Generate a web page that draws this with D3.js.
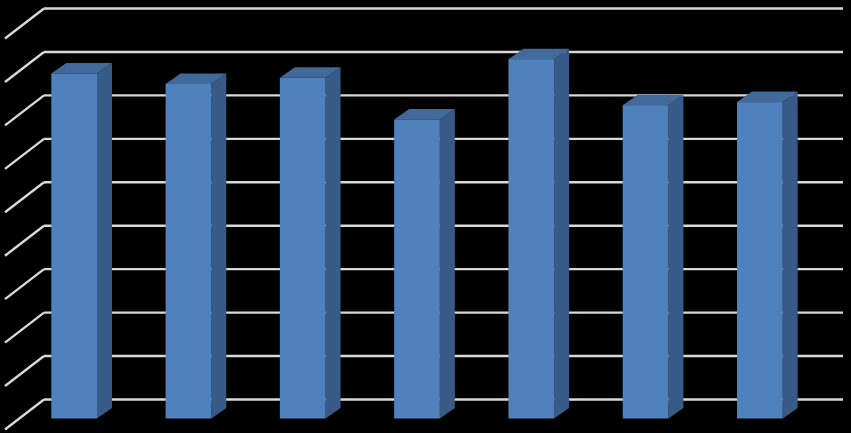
<!DOCTYPE html>
<html>
<head>
<meta charset="utf-8">
<style>
  html, body { margin: 0; padding: 0; background: #000; overflow: hidden; }
  svg { display: block; }
</style>
<script src="https://cdn.jsdelivr.net/npm/d3@7"></script>
</head>
<body>
<div id="chart"></div>
<script>
const width = 851;
const height = 433;

// category names and axis numbers are black on black in the source, so not readable
const categories = ["1", "2", "3", "4", "5", "6", "7"];
const values = [7.95, 7.71, 7.85, 6.89, 8.28, 7.22, 7.29];
const tickValues = [0, 1, 2, 3, 4, 5, 6, 7, 8, 9];

// 3d offsets
const wallDx = 39, wallDy = -30;   // front of floor to back wall
const barDx = 15, barDy = -10.5;   // depth of one bar

const svg = d3.select('#chart')
    .append('svg')
    .attr('width', width)
    .attr('height', height)
    .style('background', '#000');

// scale for the front face of the bars
const x = d3.scaleBand()
    .domain(categories)
    .range([17, 817])
    .paddingInner(0.6)
    .paddingOuter(0.3);

const y = d3.scaleLinear()
    .domain([0, 9])
    .range([418.5, 27.9]);

// gridlines sit on the back wall
const wallY = d3.scaleLinear()
    .domain([0, 9])
    .range([399, 8]);

const gridAxis = d3.axisLeft(wallY)
    .tickValues(tickValues)
    .tickSize(-(843 - 44))
    .tickFormat('');

const grid = svg.append('g')
    .attr('class', 'grid')
    .attr('transform', 'translate(44,0)')
    .call(gridAxis);

grid.select('.domain').remove();
grid.selectAll('.tick line')
    .attr('stroke', '#d9d9d9')
    .attr('stroke-width', 2.4);

// the slanted part of each gridline, running along the floor side
grid.selectAll('.tick')
    .append('line')
    .attr('x1', 0)
    .attr('y1', 0)
    .attr('x2', -wallDx)
    .attr('y2', -wallDy)
    .attr('stroke', '#d9d9d9')
    .attr('stroke-width', 2.4);

const bar = svg.selectAll('.bar')
    .data(values)
    .enter().append('g')
    .attr('class', 'bar');

const bw = x.bandwidth();
const xOf = (d, i) => x(categories[i]);

// side
bar.append('path')
    .attr('fill', '#375a87')
    .attr('d', (d, i) => {
        const r = xOf(d, i) + bw;
        return `M${r},${y(d)}L${r + barDx},${y(d) + barDy}L${r + barDx},${y(0) + barDy}L${r},${y(0)}Z`;
    });

// top
bar.append('path')
    .attr('fill', '#41699a')
    .attr('d', (d, i) => {
        const l = xOf(d, i);
        return `M${l},${y(d)}L${l + barDx},${y(d) + barDy}L${l + bw + barDx},${y(d) + barDy}L${l + bw},${y(d)}Z`;
    });

// front
bar.append('rect')
    .attr('fill', '#4f81bd')
    .attr('x', xOf)
    .attr('y', d => y(d))
    .attr('width', bw)
    .attr('height', d => y(0) - y(d));
</script>
</body>
</html>
